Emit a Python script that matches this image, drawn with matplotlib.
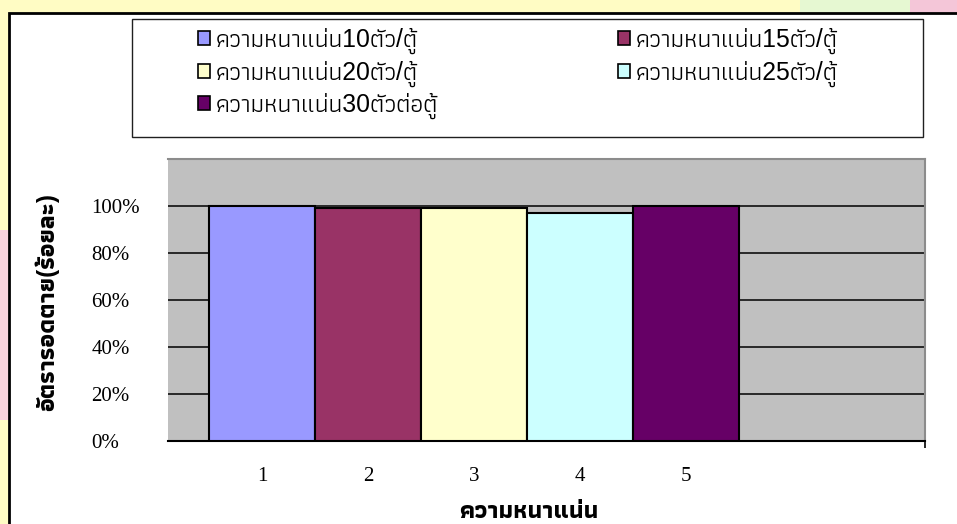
import matplotlib

matplotlib.use("Agg")
import matplotlib.pyplot as plt
from matplotlib import font_manager, ft2font
from matplotlib.patches import Rectangle

# data
categories = [1, 2, 3, 4, 5]
survival = [1.00, 0.99, 0.99, 0.97, 1.00]
series_labels = [
    "ความหนาแน่น10ตัว/ตู้",
    "ความหนาแน่น15ตัว/ตู้",
    "ความหนาแน่น20ตัว/ตู้",
    "ความหนาแน่น25ตัว/ตู้",
    "ความหนาแน่น30ตัวต่อตู้",
]
bar_colors = ["#9999FF", "#993366", "#FFFFCC", "#CCFFFF", "#660066"]
y_ticks = [0.0, 0.2, 0.4, 0.6, 0.8, 1.0]
y_tick_labels = ["0%", "20%", "40%", "60%", "80%", "100%"]
y_title = "อัตรารอดตาย(ร้อยละ)"
x_title = "ความหนาแน่น"


def find_thai_family() -> str:
    """Pick an installed family with Thai glyphs, preferring one that has a bold face."""
    weights: dict[str, set] = {}
    for entry in font_manager.fontManager.ttflist:
        try:
            cmap = ft2font.FT2Font(entry.fname).get_charmap()
        except Exception:
            continue
        if 0x0E01 in cmap and 0x0E49 in cmap:
            weight = entry.weight if isinstance(entry.weight, int) else 400
            weights.setdefault(entry.name, set()).add(weight)
    names = sorted(
        weights,
        key=lambda n: (max(weights[n]) < 600, "Serif" in n, "Looped" in n, n),
    )
    return names[0] if names else "DejaVu Sans"


W, H = 957, 524
# latin digits from Liberation Sans, thai letters fall through to the thai family
thai = ["Liberation Sans", find_thai_family(), "DejaVu Sans"]

fig = plt.figure(figsize=(W / 100, H / 100), dpi=100, facecolor="#FFFCC4")

# decorative backdrop strips and the white chart frame
fig.patches.append(Rectangle((0, (H - 420) / H), 9 / W, 190 / H, transform=fig.transFigure,
                             facecolor="#F9D3DC", edgecolor="none", zorder=0))
fig.patches.append(Rectangle((800 / W, 1 - 13 / H), 110 / W, 13 / H, transform=fig.transFigure,
                             facecolor="#E6F8D2", edgecolor="none", zorder=0))
fig.patches.append(Rectangle((910 / W, 1 - 13 / H), 47 / W, 13 / H, transform=fig.transFigure,
                             facecolor="#F4C6D8", edgecolor="none", zorder=0))
fig.patches.append(Rectangle((9 / W, -0.1), 1.2, (H - 13) / H + 0.1, transform=fig.transFigure,
                             facecolor="white", edgecolor="black", linewidth=2, zorder=1))
fig.patches.append(Rectangle((132 / W, (H - 137) / H), 791 / W, 118 / H, transform=fig.transFigure,
                             facecolor="white", edgecolor="#202020", linewidth=1, zorder=2))

ax = fig.add_axes([168 / W, (H - 441) / H, 757 / W, 282 / H], zorder=3)
ax.set_facecolor("#C0C0C0")

bars = ax.bar(categories, survival, width=1.0, color=bar_colors, edgecolor="black",
              linewidth=1.5, zorder=3)

ax.set_xlim(0.113, 7.255)
ax.set_ylim(0, 1.2)
ax.set_yticks(y_ticks)
ax.set_yticklabels(y_tick_labels, family="Liberation Serif", fontsize=15, ha="left")
ax.set_xticks(categories)
ax.set_xticklabels([str(c) for c in categories], family="Liberation Serif", fontsize=15)
ax.tick_params(axis="y", length=0, pad=55)
ax.tick_params(axis="x", length=0, pad=19)
ax.set_xticks([7.255], minor=True)
ax.tick_params(axis="x", which="minor", length=5, width=1.2, color="black")
ax.grid(axis="y", color="black", linewidth=1.1, zorder=1)
ax.set_axisbelow(True)

ax.spines["left"].set_visible(False)
ax.spines["top"].set_color("#8C8C8C")
ax.spines["right"].set_color("#8C8C8C")
ax.spines["top"].set_linewidth(1.5)
ax.spines["right"].set_linewidth(1.5)
ax.spines["bottom"].set_color("black")
ax.spines["bottom"].set_linewidth(1.5)

fig.text(47 / W, 1 - 302 / H, y_title, rotation=90, ha="center", va="center",
         family=thai, fontsize=17.5, fontweight="bold", zorder=4)
fig.text(529 / W, 1 - 511 / H, x_title, ha="center", va="center",
         family=thai, fontsize=17.5, fontweight="bold", zorder=4)

legend_style = dict(
    frameon=False,
    loc="upper left",
    prop={"family": thai, "size": 17.8},
    handlelength=0.48,
    handleheight=0.48,
    handletextpad=0.25,
    labelspacing=0.25,
    borderpad=0,
    borderaxespad=0,
)
left_idx = [0, 2, 4]
right_idx = [1, 3]
leg1 = fig.legend([bars[i] for i in left_idx], [series_labels[i] for i in left_idx],
                  bbox_to_anchor=(198 / W, 1 - 28 / H), **legend_style)
leg2 = fig.legend([bars[i] for i in right_idx], [series_labels[i] for i in right_idx],
                  bbox_to_anchor=(618 / W, 1 - 28 / H), **legend_style)
for leg in (leg1, leg2):
    leg.set_zorder(5)
    for handle in leg.legend_handles:
        handle.set_linewidth(1.2)

fig.savefig("out.png", dpi=100, facecolor=fig.get_facecolor())
